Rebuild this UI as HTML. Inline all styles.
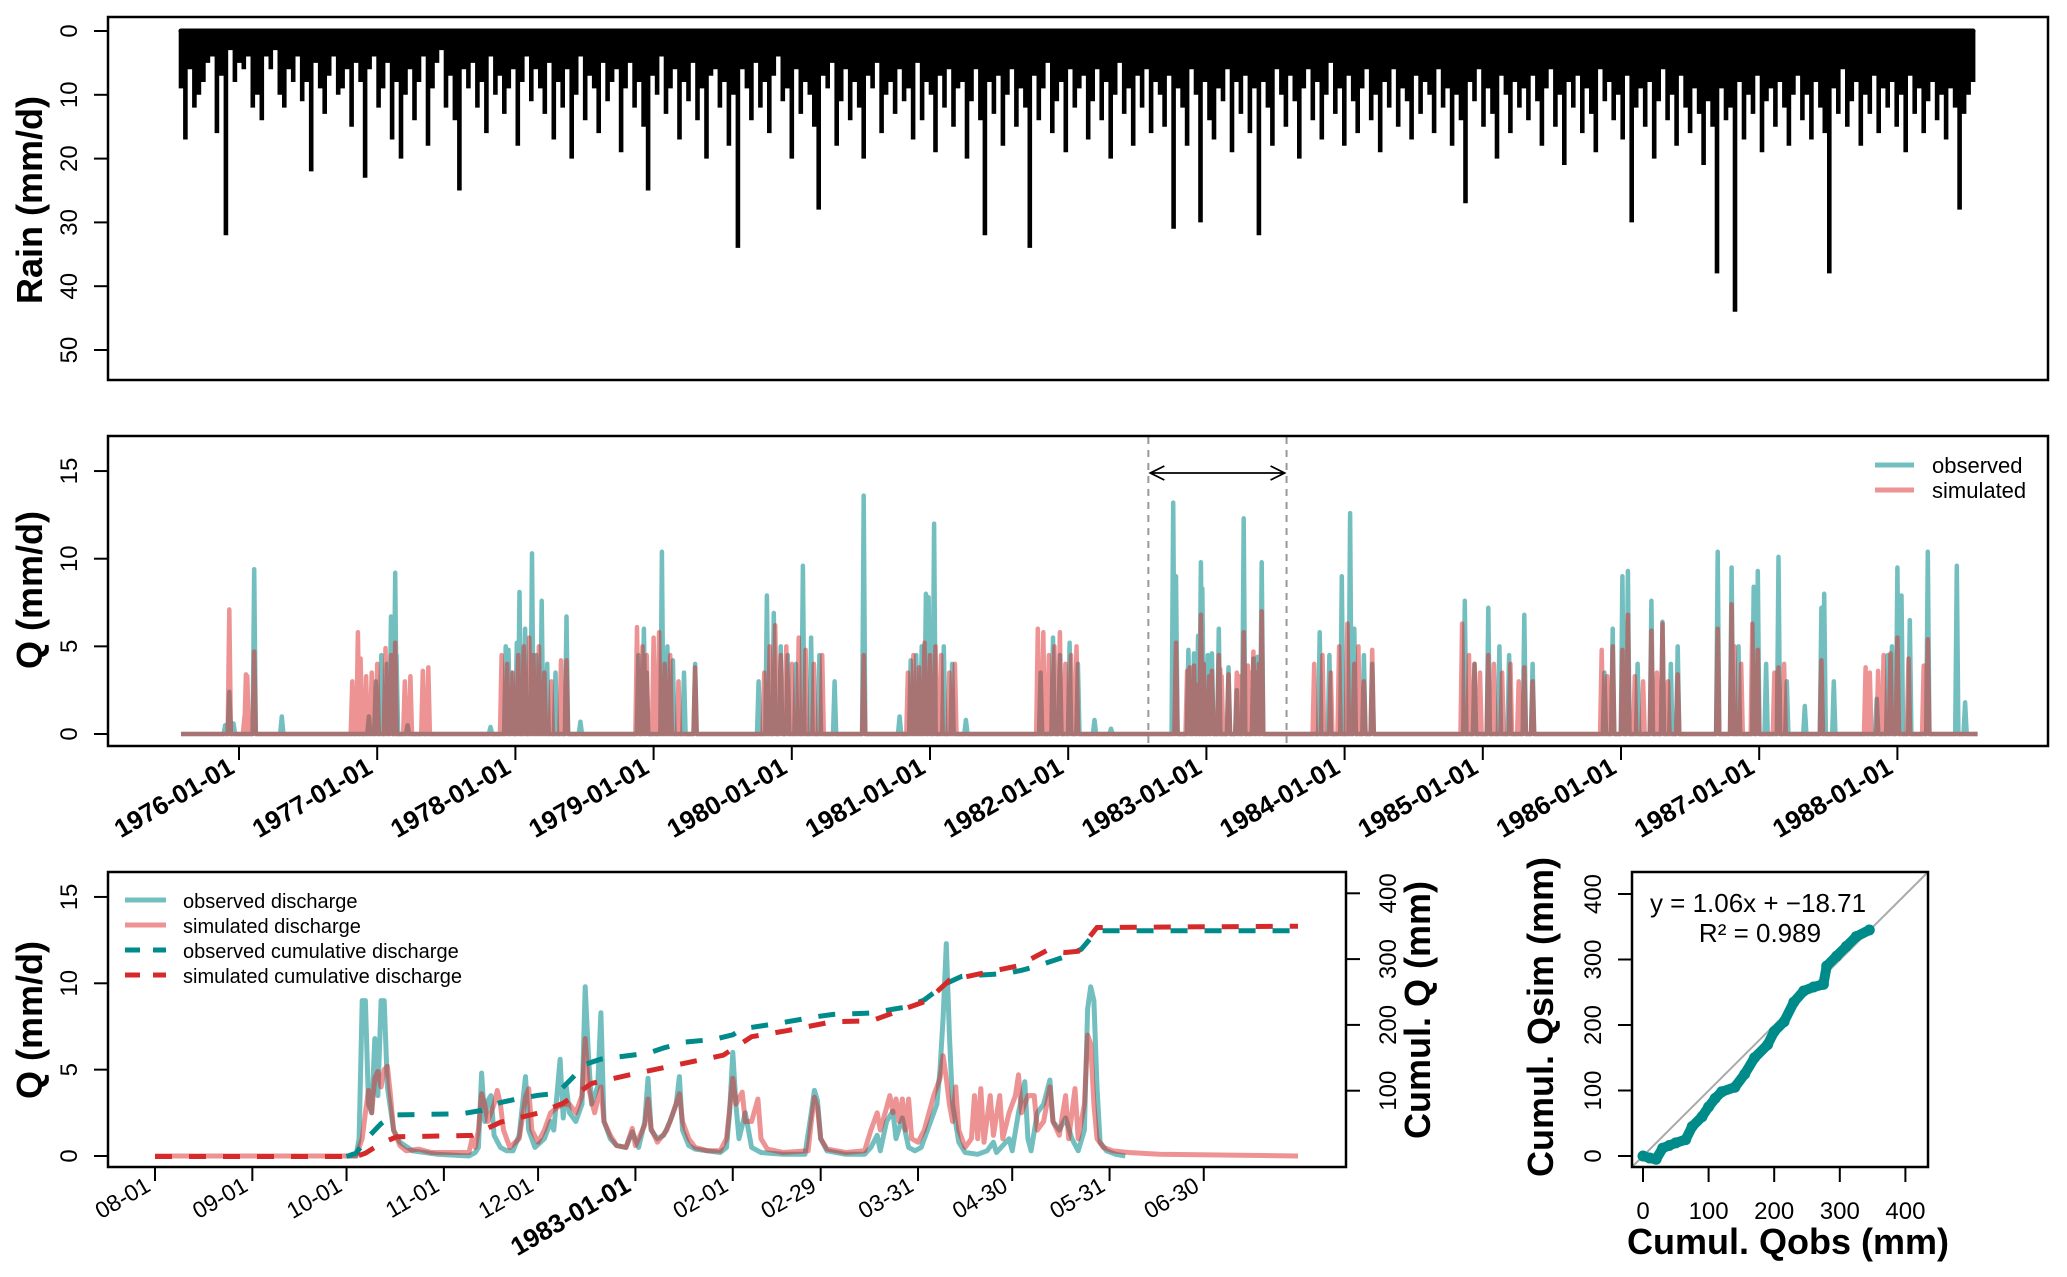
<!DOCTYPE html>
<html><head><meta charset="utf-8">
<style>
html,body{margin:0;padding:0;background:#fff;}
svg{display:block;font-family:"Liberation Sans",Arial,sans-serif;}
</style></head>
<body>
<svg id="fig" width="2067" height="1277" viewBox="0 0 2067 1277" xmlns="http://www.w3.org/2000/svg">
  <rect x="0" y="0" width="2067" height="1277" fill="#fff"/>
  <g id="rainPanel"></g>
  <rect x="108" y="17" width="1940" height="363" fill="none" stroke="#000" stroke-width="2.5"/>
  <text transform="translate(42,200) rotate(-90)" text-anchor="middle" font-size="36" font-weight="bold">Rain (mm/d)</text>
  <g id="rainYAxis"></g>

  <g id="midPanel"></g>
  <rect x="108" y="436" width="1940" height="310" fill="none" stroke="#000" stroke-width="2.5"/>
  <text transform="translate(42,590) rotate(-90)" text-anchor="middle" font-size="36" font-weight="bold">Q (mm/d)</text>
  <g id="midYAxis"></g>
  <g id="midXAxis"></g>
  <g>
    <line x1="1875" y1="465" x2="1914" y2="465" stroke="rgb(0,139,139)" stroke-opacity="0.55" stroke-width="5"/>
    <text x="1932" y="473" font-size="22">observed</text>
    <line x1="1875" y1="490" x2="1914" y2="490" stroke="rgb(220,40,40)" stroke-opacity="0.5" stroke-width="5"/>
    <text x="1932" y="498" font-size="22">simulated</text>
  </g>

  <g id="botPanel"></g>
  <rect x="108" y="872" width="1238" height="295" fill="none" stroke="#000" stroke-width="2.5"/>
  <text transform="translate(42,1020) rotate(-90)" text-anchor="middle" font-size="36" font-weight="bold">Q (mm/d)</text>
  <text transform="translate(1430,1010) rotate(-90)" text-anchor="middle" font-size="36" font-weight="bold">Cumul. Q (mm)</text>
  <g id="botAxes"></g>
  <g>
    <line x1="125" y1="900" x2="166" y2="900" stroke="rgb(0,139,139)" stroke-opacity="0.55" stroke-width="5"/>
    <text x="183" y="908" font-size="20">observed discharge</text>
    <line x1="125" y1="925" x2="166" y2="925" stroke="rgb(220,40,40)" stroke-opacity="0.5" stroke-width="5"/>
    <text x="183" y="933" font-size="20">simulated discharge</text>
    <line x1="125" y1="950" x2="166" y2="950" stroke="#008b8b" stroke-width="5" stroke-dasharray="15,13"/>
    <text x="183" y="958" font-size="20">observed cumulative discharge</text>
    <line x1="125" y1="975" x2="166" y2="975" stroke="#d62a2a" stroke-width="5" stroke-dasharray="15,13"/>
    <text x="183" y="983" font-size="20">simulated cumulative discharge</text>
  </g>

  <g id="scPanel"></g>
  <rect x="1632" y="872" width="296" height="295" fill="none" stroke="#000" stroke-width="2.5"/>
  <text x="1758" y="912" text-anchor="middle" font-size="26">y = 1.06x + −18.71</text>
  <text x="1760" y="942" text-anchor="middle" font-size="26">R² = 0.989</text>
  <text transform="translate(1553,1017) rotate(-90)" text-anchor="middle" font-size="36" font-weight="bold">Cumul. Qsim (mm)</text>
  <text x="1788" y="1254" text-anchor="middle" font-size="36" font-weight="bold">Cumul. Qobs (mm)</text>
  <g id="scAxes"></g>
</svg>
<script>
const rainStart = 1975.58;
const rainStep = 0.0325;
const rainValues = [
9,17,6,12,10,8,5,4,16,7,32,3,8,5,6,4,12,10,14,4,
6,3,10,12,6,8,4,11,8,22,5,9,13,7,4,10,9,6,15,5,
8,23,6,4,12,9,5,17,8,20,10,6,14,8,4,18,9,5,3,12,
7,14,25,6,9,5,12,8,16,4,10,7,13,9,6,18,8,4,11,6,
9,13,5,17,8,12,6,20,10,4,14,7,9,16,5,11,8,6,19,9,
5,12,8,15,25,7,10,4,13,9,6,17,8,11,5,14,9,20,7,6,
12,8,18,10,34,6,9,14,5,12,8,16,7,4,11,9,20,6,13,8,
10,15,28,7,9,5,18,11,6,14,8,12,20,7,9,5,16,10,8,13,
6,11,9,17,5,14,8,10,19,7,12,6,15,9,8,20,11,6,14,32,
8,13,7,18,10,6,15,9,12,34,7,14,9,5,16,11,8,19,6,12,
9,7,17,11,6,14,8,20,10,5,13,9,18,7,12,6,16,8,10,15,
7,31,9,12,18,6,10,30,8,14,17,9,11,6,19,8,13,7,16,9,
32,8,12,18,6,10,15,7,11,20,9,6,14,8,17,10,5,13,9,18,
7,11,16,9,6,14,10,19,8,12,6,15,9,11,17,7,13,8,10,16,
6,12,9,18,10,14,27,8,11,6,15,9,13,20,7,10,16,8,12,9,
14,7,11,18,9,6,15,10,21,8,12,7,16,9,13,19,6,11,8,14,
10,17,7,30,12,9,15,8,20,11,6,14,10,18,7,12,16,9,13,21,
11,15,38,9,14,12,44,8,17,10,13,7,19,11,9,15,8,12,18,10,
7,14,10,17,8,12,16,38,9,13,6,15,11,8,18,10,13,7,16,9,
12,8,15,10,19,7,13,9,16,11,8,14,10,17,9,12,28,13,10,8];
const rainTicks = [0,10,20,30,40,50];

const qStart = 1975.58, qEnd = 1988.58;
const obsYears = [1975.90,1975.93,1975.96,1976.11,1976.31,1976.94,1976.99,1977.03,1977.07,1977.10,1977.13,1977.14,1977.22,
1977.82,1977.93,1977.95,1977.97,1978.01,1978.03,1978.07,1978.12,1978.15,1978.19,1978.23,1978.29,1978.37,1978.47,
1978.89,1978.93,1978.95,1979.06,1979.10,1979.14,1979.22,1979.30,
1979.76,1979.82,1979.87,1979.92,1979.97,1980.03,1980.08,1980.14,1980.20,1980.31,1980.52,
1980.78,1980.86,1980.90,1980.94,1980.97,1980.99,1981.03,1981.10,1981.16,1981.26,
1981.80,1981.89,1981.94,1982.01,1982.07,1982.19,1982.31,
1982.76,1982.78,1982.87,1982.91,1982.94,1982.96,1982.97,1983.01,1983.04,1983.09,1983.16,1983.22,1983.27,1983.34,1983.37,1983.40,
1983.82,1983.89,1983.98,1984.04,1984.07,1984.14,1984.20,
1984.87,1984.94,1985.04,1985.12,1985.19,1985.30,1985.36,
1985.88,1985.94,1986.01,1986.05,1986.12,1986.22,1986.30,1986.36,1986.41,
1986.70,1986.80,1986.85,1986.96,1986.99,1987.05,1987.14,1987.20,1987.33,1987.45,1987.47,1987.54,
1987.85,1987.93,1987.96,1988.00,1988.03,1988.09,1988.22,1988.43,1988.49];
const obsValues = [0.5,2.4,0.6,9.4,1.0,1.0,3.0,4.5,4.0,6.7,9.2,4.5,0.5,
0.4,5.0,4.8,3.5,5.2,8.1,6.0,10.3,4.5,7.6,4.0,3.5,6.7,0.7,
4.5,6.0,3.5,10.4,5.0,4.2,3.5,4.0,
3.0,7.9,6.9,5.0,4.5,4.0,9.6,5.5,4.5,3.0,13.6,
1.0,4.2,4.5,5.0,8.0,7.8,12.0,5.0,4.0,0.8,
3.5,5.5,4.5,5.2,4.0,0.8,0.3,
13.2,9.0,4.8,4.6,5.6,9.8,8.3,4.5,4.6,6.0,3.8,2.5,12.3,4.3,4.4,9.8,
5.8,4.5,9.0,12.6,6.0,4.5,4.0,
7.6,4.0,7.2,5.0,4.5,6.8,4.0,
3.5,6.0,9.0,9.3,4.0,7.6,6.4,4.0,5.0,
10.4,9.5,5.0,8.4,9.3,4.0,10.1,3.0,1.6,7.2,8.0,3.0,
2.0,4.5,5.0,9.5,7.9,6.5,10.4,9.6,1.8];
const simYears = [1975.93,1976.04,1976.05,1976.06,1976.11,
1976.82,1976.86,1976.88,1976.92,1976.96,1977.00,1977.06,1977.10,1977.13,1977.20,1977.24,1977.33,1977.37,
1977.90,1977.94,1977.98,1978.02,1978.06,1978.10,1978.13,1978.17,1978.21,1978.26,1978.33,1978.37,
1978.88,1978.92,1978.95,1979.00,1979.04,1979.08,1979.12,1979.18,1979.30,
1979.80,1979.84,1979.88,1979.92,1979.96,1980.00,1980.05,1980.10,1980.16,1980.22,1980.52,
1980.84,1980.88,1980.92,1980.96,1981.00,1981.04,1981.08,1981.14,1981.18,
1981.78,1981.82,1981.86,1981.90,1981.94,1981.98,1982.02,1982.06,
1982.78,1982.86,1982.88,1982.91,1982.93,1982.96,1982.98,1983.02,1983.04,1983.09,1983.10,1983.11,1983.16,1983.22,1983.24,1983.27,1983.30,1983.32,1983.34,1983.36,1983.38,1983.40,
1983.78,1983.84,1983.90,1983.96,1984.02,1984.07,1984.10,1984.14,1984.20,
1984.85,1984.90,1984.94,1984.98,1985.04,1985.08,1985.14,1985.20,1985.26,1985.30,1985.36,
1985.86,1985.90,1985.94,1986.01,1986.05,1986.10,1986.16,1986.22,1986.26,1986.30,1986.34,1986.41,
1986.70,1986.80,1986.82,1986.87,1986.95,1986.99,1987.11,1987.14,1987.18,1987.45,
1987.77,1987.80,1987.86,1987.90,1987.95,1988.00,1988.08,1988.19,1988.22];
const simValues = [7.1,1.0,3.4,3.3,4.7,
3.0,5.8,4.3,3.3,3.5,4.0,4.9,4.5,5.2,3.0,3.3,3.6,3.8,
4.5,4.0,3.5,4.5,5.0,5.5,4.5,5.0,3.5,3.0,4.2,4.2,
6.1,5.0,4.5,5.5,5.8,4.0,4.5,3.0,3.8,
3.5,5.0,6.2,4.5,5.0,4.0,5.5,4.8,4.0,4.5,4.5,
3.5,4.5,3.8,5.2,4.5,5.0,4.5,3.5,4.0,
6.0,5.8,4.5,5.0,5.8,4.0,4.5,5.0,
5.2,3.6,3.8,3.9,2.8,6.8,4.0,3.3,3.6,4.5,3.7,3.3,3.4,3.5,3.3,5.8,3.9,3.5,4.7,3.5,4.0,7.0,
4.0,4.5,3.5,5.0,6.3,4.0,5.0,3.0,4.8,
6.3,4.5,4.0,3.5,4.5,4.0,3.5,4.0,3.0,3.8,3.0,
4.8,3.3,5.0,4.8,6.8,3.3,3.0,5.9,3.5,6.3,3.0,3.4,
6.0,7.4,5.0,4.0,6.3,4.8,3.5,3.8,4.0,4.2,
3.8,3.5,3.6,4.5,4.6,5.5,4.3,3.9,5.4];
const yearTickLabels = ['1976-01-01','1977-01-01','1978-01-01','1979-01-01','1980-01-01','1981-01-01','1982-01-01','1983-01-01','1984-01-01','1985-01-01','1986-01-01','1987-01-01','1988-01-01'];
const qTicks = [0,5,10,15];
const periodBounds = [1982.58, 1983.58];

const botObsDays = [61,64,65,66,67,68,69,70,71,72,73,74,76,78,82,90,100,102,103,104,105,106,107,108,110,112,114,116,118,119,121,124,126,127,129,130,131,132,134,136,137,138,139,141,142,143,145,147,150,152,154,156,157,158,160,162,164,166,167,168,170,172,176,180,182,183,184,185,186,188,190,193,200,207,209,210,211,212,214,220,226,228,230,231,233,235,236,238,240,242,244,247,249,250,251,252,253,254,256,258,262,265,267,268,272,273,275,277,278,279,281,283,285,286,288,290,292,294,296,297,298,299,300,301,303,306,309];
const botObsQ = [0,0,1,9,9,3,2.5,6.8,3.5,9,9,4,1.5,0.8,0.3,0.1,0,0.2,0.5,4.8,2,3.2,3.5,1.2,0.5,0.3,0.3,1.2,4.6,1.5,0.5,1.0,2.0,1.5,5.6,2.2,4.0,2.5,2.0,3.0,9.8,6.0,3.0,4.0,8.3,2.0,1.0,0.6,0.5,1.4,0.5,2.0,4.5,1.5,1.0,1.2,2.0,3.0,4.6,1.5,0.6,0.4,0.3,0.2,0.5,2.5,6.0,3.0,1.0,2.5,0.5,0.2,0.1,0.1,2.5,3.8,3.2,1.0,0.3,0.1,0.1,0.5,1.2,0.3,2.0,2.6,1.0,2.2,0.5,0.3,0.5,2.0,3.0,5.0,8.0,12.3,7.0,3.0,0.8,0.2,0.1,0.3,0.8,0.2,1.0,0.3,2.5,4.3,1.0,0.3,2.5,3.0,4.4,2.0,1.5,2.2,1.0,0.3,1.5,8.5,9.8,9.0,4.0,0.8,0.3,0.1,0];
const botSimDays = [0,64,65,66,67,68,69,70,71,72,73,74,75,76,78,80,84,88,100,101,102,103,104,105,106,108,109,110,111,113,116,118,119,120,122,124,126,128,130,132,134,136,137,138,140,142,143,145,147,150,152,153,156,157,158,160,163,165,167,168,170,172,176,180,182,184,185,187,188,190,192,193,195,200,208,209,210,211,212,214,220,226,228,230,231,233,234,235,236,237,238,239,240,241,243,245,248,250,251,252,253,254,255,256,258,260,261,262,263,264,266,267,269,270,272,274,275,276,278,280,281,283,285,286,288,290,291,293,294,296,297,298,299,300,302,305,310,320,364];
const botSimQ = [0,0,0.5,1.0,2.5,3.8,2.5,4.5,4.9,4.0,5.0,5.2,3.5,1.5,0.6,0.3,0.4,0.2,0.2,1.0,0.5,1.5,3.6,3.0,2.0,3.0,3.8,3.0,1.5,0.5,1.0,3.4,3.9,1.5,0.8,1.5,2.5,2.8,3.0,3.0,2.5,3.5,6.8,4.0,2.5,4.0,2.0,1.2,0.6,0.5,1.6,0.6,1.8,3.3,1.6,0.8,1.5,2.5,3.6,2.0,1.0,0.5,0.3,0.3,1.0,4.5,3.0,3.7,2.0,2.0,3.3,1.0,0.4,0.2,0.3,2.0,3.4,2.8,1.0,0.4,0.2,0.3,1.5,2.5,1.5,2.8,3.5,2.5,3.3,2.0,3.3,1.5,3.3,1.0,0.8,1.5,3.5,4.5,5.8,4.5,3.0,2.0,4.0,1.5,0.5,1.0,3.5,1.0,3.9,0.8,3.5,1.2,3.5,1.0,2.5,3.5,4.7,2.5,3.5,3.5,1.5,2.0,4.0,2.0,1.2,3.5,1.0,3.9,1.0,3.0,7.0,6.5,3.0,1.0,0.5,0.3,0.2,0.1,0];
const cumObsDays = [61,64,68,72,76,98,104,110,116,122,128,132,137,142,157,162,169,178,184,187,198,210,216,228,240,245,252,257,271,276,280,290,295,300,364];
const cumObs = [0,5,30,50,63,65,70,82,88,93,96,115,140,148,157,165,174,178,185,194,202,212,216,218,228,238,263,274,278,283,288,304,315,343,343];
const cumSimDays = [0,64,67,72,77,101,110,122,130,139,151,163,181,190,201,216,228,246,253,263,275,284,290,294,300,364];
const cumSim = [0,0,5,20,30,32,52,66,81,111,124,136,154,182,191,205,206,237,268,278,290,313,310,312,348,350];
const monthTickDays = [0,31,61,92,122,153,184,212,243,273,304,334];
const monthTickLabels = ['08-01','09-01','10-01','11-01','12-01','1983-01-01','02-01','02-29','03-31','04-30','05-31','06-30'];
const cumTicks = [100,200,300,400];

const scObs = [0,10,20,30,40,50,65,75,90,100,110,120,140,155,170,190,200,215,230,245,260,275,280,295,310,325,345];
const scSim = [0,-3,-5,12,16,20,25,45,60,75,88,98,105,125,150,170,190,205,235,252,258,262,290,305,320,335,345];
const scTicks = [0,100,200,300,400];

const NS = 'http://www.w3.org/2000/svg';
function mk(parent, tag, attrs){ const e=document.createElementNS(NS,tag); for(const k in attrs) e.setAttribute(k,attrs[k]); parent.appendChild(e); return e; }
const xYr = y => 239 + (y-1976)*138.2;
const yRain = v => 31 + v*6.38;
const yQm = v => 734 - v*17.53;
const xDay = d => 155 + d*3.14;
const yQb = v => 1156 - v*17.27;
const yCum = c => 1156.5 - c*0.658;
const sx = v => 1643 + v*0.656;
const sy = v => 1156 - v*0.655;

const rp = document.getElementById('rainPanel');
let rd = '';
rainValues.forEach((v,i)=>{ const x = xYr(rainStart + i*rainStep); rd += `M${x.toFixed(1)},${yRain(0)}L${x.toFixed(1)},${yRain(v).toFixed(1)}`; });
let el = mk(rp,'path',{d:rd, stroke:'#000','stroke-width':4.6, fill:'none'});


el = mk(rp,'line',{x1:xYr(rainStart),x2:xYr(rainStart+(rainValues.length-1)*rainStep),y1:yRain(0),y2:yRain(0),stroke:'#000','stroke-width':5,'stroke-linecap':'round'});


const ry = document.getElementById('rainYAxis');
rainTicks.forEach(t=>{
  const tk = mk(ry,'line',{x1:94,x2:108,y1:yRain(t),y2:yRain(t),stroke:'#000','stroke-width':2});
  
  
  const tx = mk(ry,'text',{transform:`translate(${77},${yRain(t)}) rotate(-90)`,'text-anchor':'middle','font-size':24});
  tx.textContent = t;
  
  
});

const mp = document.getElementById('midPanel');
function spikePath(years, vals){
  const idx = years.map((_,i)=>i).sort((a,b)=>years[a]-years[b]);
  let d = `M${xYr(qStart).toFixed(1)},${yQm(0)}`;
  idx.forEach(i=>{ const x=xYr(years[i]); d += `L${(x-1.6).toFixed(1)},${yQm(0)}L${x.toFixed(1)},${yQm(vals[i]).toFixed(1)}L${(x+1.6).toFixed(1)},${yQm(0)}`; });
  d += `L${xYr(qEnd).toFixed(1)},${yQm(0)}`;
  return d;
}
el = mk(mp,'path',{d:spikePath(obsYears,obsValues),fill:'none',stroke:'rgb(0,139,139)','stroke-opacity':0.55,'stroke-width':4.5,'stroke-linejoin':'round'});


el = mk(mp,'path',{d:spikePath(simYears,simValues),fill:'none',stroke:'rgb(220,40,40)','stroke-opacity':0.5,'stroke-width':4.5,'stroke-linejoin':'round'});


periodBounds.forEach(p=>{
  const l = mk(mp,'line',{x1:xYr(p),x2:xYr(p),y1:437,y2:745,stroke:'#999','stroke-width':2,'stroke-dasharray':'7,6'});
  
  
});
const ax1 = xYr(periodBounds[0])+2, ax2 = xYr(periodBounds[1])-2;
el = mk(mp,'path',{d:`M${ax1},473L${ax2},473M${ax1+14},466L${ax1},473L${ax1+14},480M${ax2-14},466L${ax2},473L${ax2-14},480`,fill:'none',stroke:'#000','stroke-width':1.8});


const my = document.getElementById('midYAxis');
qTicks.forEach(t=>{
  const tk = mk(my,'line',{x1:94,x2:108,y1:yQm(t),y2:yQm(t),stroke:'#000','stroke-width':2});
  
  
  const tx = mk(my,'text',{transform:`translate(77,${yQm(t)}) rotate(-90)`,'text-anchor':'middle','font-size':24});
  tx.textContent = t;
  
  
});
const mx = document.getElementById('midXAxis');
yearTickLabels.forEach((lab,i)=>{
  const x = xYr(1976+i);
  const tk = mk(mx,'line',{x1:x,x2:x,y1:746,y2:760,stroke:'#000','stroke-width':2});
  
  
  const tx = mk(mx,'text',{transform:`translate(${x-3},${772}) rotate(-30)`,'text-anchor':'end','font-size':26,'font-weight':'bold'});
  tx.textContent = lab;
  
  
});

const bp = document.getElementById('botPanel');
function linePath(xs, ys, fx, fy){ return xs.map((x,i)=>(i?'L':'M')+fx(x).toFixed(1)+','+fy(ys[i]).toFixed(1)).join(''); }
el = mk(bp,'path',{d:linePath(botObsDays,botObsQ,xDay,yQb),fill:'none',stroke:'rgb(0,139,139)','stroke-opacity':0.55,'stroke-width':5,'stroke-linejoin':'round'});


el = mk(bp,'path',{d:linePath(botSimDays,botSimQ,xDay,yQb),fill:'none',stroke:'rgb(220,40,40)','stroke-opacity':0.5,'stroke-width':5,'stroke-linejoin':'round'});


el = mk(bp,'path',{d:linePath(cumObsDays,cumObs,xDay,yCum),fill:'none',stroke:'#008b8b','stroke-width':5,'stroke-dasharray':'17,17'});


el = mk(bp,'path',{d:linePath(cumSimDays,cumSim,xDay,yCum),fill:'none',stroke:'#d62a2a','stroke-width':5,'stroke-dasharray':'17,17'});


const ba = document.getElementById('botAxes');
qTicks.forEach(t=>{
  const tk = mk(ba,'line',{x1:94,x2:108,y1:yQb(t),y2:yQb(t),stroke:'#000','stroke-width':2});
  
  
  const tx = mk(ba,'text',{transform:`translate(77,${yQb(t)}) rotate(-90)`,'text-anchor':'middle','font-size':24});
  tx.textContent = t;
  
  
});
cumTicks.forEach(t=>{
  const tk = mk(ba,'line',{x1:1346,x2:1360,y1:yCum(t),y2:yCum(t),stroke:'#000','stroke-width':2});
  
  
  const tx = mk(ba,'text',{transform:`translate(1396,${yCum(t)}) rotate(-90)`,'text-anchor':'middle','font-size':24});
  tx.textContent = t;
  
  
});
monthTickDays.forEach((d,i)=>{
  const x = xDay(d);
  const tk = mk(ba,'line',{x1:x,x2:x,y1:1167,y2:1181,stroke:'#000','stroke-width':2});
  
  
  const bold = monthTickLabels[i].length > 5;
  const tx = mk(ba,'text',{transform:`translate(${x-3},${1190}) rotate(-30)`,'text-anchor':'end','font-size':bold?26:23,'font-weight':bold?'bold':'normal'});
  tx.textContent = monthTickLabels[i];
  
  
});

const sp = document.getElementById('scPanel');
el = mk(sp,'line',{x1:1632,y1:1167,x2:1928,y2:872,stroke:'#aaa','stroke-width':2});


el = mk(sp,'path',{d:linePath(scObs,scSim,sx,sy),fill:'none',stroke:'#008b8b','stroke-width':10,'stroke-linecap':'round','stroke-linejoin':'round'});


scObs.forEach((v,i)=>{
  const c = mk(sp,'circle',{cx:sx(v),cy:sy(scSim[i]),r:5.5,fill:'#008b8b'});
  
  
});
const sa = document.getElementById('scAxes');
scTicks.forEach(t=>{
  const tk = mk(sa,'line',{x1:sx(t),x2:sx(t),y1:1167,y2:1182,stroke:'#000','stroke-width':2});
  
  
  const tx = mk(sa,'text',{x:sx(t),y:1219,'text-anchor':'middle','font-size':24});
  tx.textContent = t;
  
  
  const tk2 = mk(sa,'line',{x1:1618,x2:1632,y1:sy(t),y2:sy(t),stroke:'#000','stroke-width':2});
  
  
  const ty = mk(sa,'text',{transform:`translate(1601,${sy(t)}) rotate(-90)`,'text-anchor':'middle','font-size':24});
  ty.textContent = t;
  
  
});
</script>
</body></html>
